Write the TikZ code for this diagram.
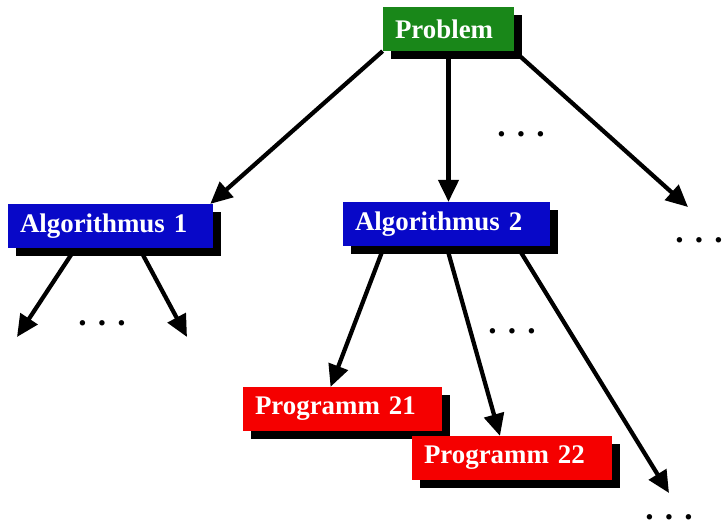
\documentclass[tikz,border=0pt]{standalone}
\usepackage{fontspec}
\setmainfont{Liberation Serif}
\usepackage{tikz}
\usetikzlibrary{arrows.meta,calc,shadows,backgrounds}
\definecolor{probgreen}{RGB}{25,135,25}
\definecolor{algblue}{RGB}{8,8,200}
\definecolor{progred}{RGB}{245,0,0}

\begin{document}
\begin{tikzpicture}[
  x=0.02cm, y=-0.02cm,
  every node/.style={font=\fontsize{15.3}{18}\selectfont\bfseries},
  box/.style={text=white, inner xsep=0.24cm, minimum height=0.87cm, align=left,
              drop shadow={shadow xshift=0.16cm, shadow yshift=-0.16cm,
                           opacity=1, fill=black}},
  probbox/.style={box, fill=probgreen},
  algbox/.style={box, fill=algblue},
  progbox/.style={box, fill=progred},
  moredots/.style={anchor=base, inner sep=0pt, font=\fontsize{19}{22}\selectfont\bfseries},
  arr/.style={-{Triangle[length=0.44cm, width=0.4cm]}, line width=0.085cm},
]
\useasboundingbox (0,0) rectangle (723,525);

%% Boxes (pixel grid, y downwards)
\node[probbox, text width=2.14cm] (prob)   at (448.5,29) {Problem};
\node[algbox,  text width=3.62cm] (alg1)   at (110.5,226) {Algorithmus 1};
\node[algbox,  text width=3.66cm] (alg2)   at (446.5,224) {Algorithmus 2};
\node[progbox, text width=3.5cm]  (prog21) at (342.5,409) {Programm 21};
\node[progbox, text width=3.52cm] (prog22) at (512,458) {Programm 22};

%% Open ends
\coordinate (r1)  at (688,207);
\coordinate (a1l) at (17,337);
\coordinate (a1r) at (187,337);
\coordinate (a2r) at (669,493);

%% Dots
\node[moredots] (d1) at (102,325) {. . .};
\node[moredots] (d2) at (521,136) {. . .};
\node[moredots] (d3) at (699,242) {. . .};
\node[moredots] (d4) at (512,333) {. . .};
\node[moredots] (d5) at (669,519) {. . .};

%% Arrows (behind the boxes)
\begin{scope}[on background layer]
  \draw[arr] (prob.south west) -- ($(alg1.north west)!0.985!(alg1.north east)$);
  \draw[arr] (prob.south) -- (prob.south |- alg2.north);
  \draw[arr] (prob.south east) -- (r1);
  \draw[arr] ($(alg1.south west)!0.33!(alg1.south east)$) -- (a1l);
  \draw[arr] ($(alg1.south west)!0.64!(alg1.south east)$) -- (a1r);
  \draw[arr] ($(alg2.south west)!0.2!(alg2.south east)$)
    -- ($(prog21.north west)!0.44!(prog21.north east)$);
  \draw[arr] (alg2.south) -- ($(prog22.north west)!0.44!(prog22.north east)$);
  \draw[arr] ($(alg2.south west)!0.84!(alg2.south east)$) -- (a2r);
\end{scope}

\end{tikzpicture}
\end{document}
